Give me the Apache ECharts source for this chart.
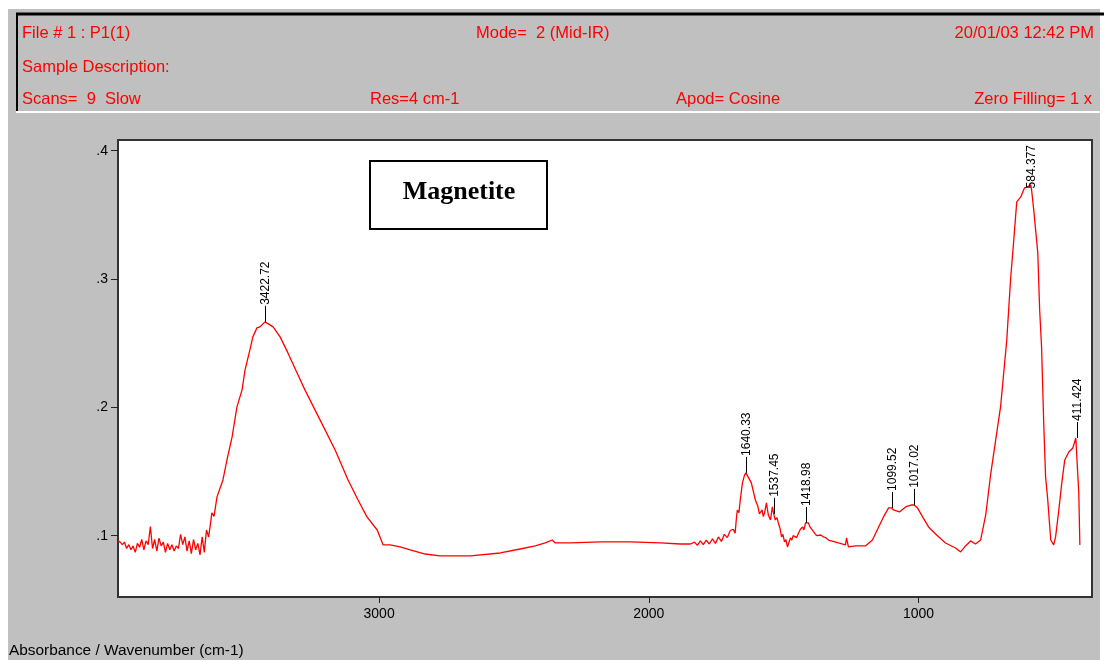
<!DOCTYPE html>
<html><head><meta charset="utf-8">
<script src="https://cdn.jsdelivr.net/npm/echarts@6/dist/echarts.min.js"></script>
<style>
html,body{margin:0;padding:0;background:#fff;}
#wrap{position:relative;width:1104px;height:660px;overflow:hidden;background:#fff;}
#bg{position:absolute;left:8px;top:9px;width:1092px;height:651px;background:#c0c0c0;}
#chart{position:absolute;left:0;top:0;width:1104px;height:660px;}
</style></head><body>
<div id="wrap"><div id="bg"></div><div id="chart"></div></div>
<script>
const wavenumbers = [3968,3960,3952,3944,3936,3928,3920,3912,3904,3896,3888,3880,3872,3864,3856,3848,3840,3832,3824,3816,3808,3800,3792,3784,3776,3768,3760,3752,3744,3736,3728,3720,3712,3704,3696,3688,3680,3672,3664,3656,3648,
  3640,3632,3626,3620,3612,3601,3579,3564,3545,3527,3508,3497,3479,3468,3453,3442,3423,3393,3367,3338,3304,3275,3219,3163,3115,3078,3045,3007,2985,2959,2922,2885,2829,2774,2662,2551,2477,2421,2384,2358,2347,2291,2180,2069,1957,1883,
  1846,1831,1820,1809,1798,1787,1776,1764,1753,1742,1731,1720,1709,1698,1687,1680,1676,1672,1666,1661,1653,1645,1640,1630,1620,1605,1596,1590,1586,1580,1576,1571,1564,1557,1549,1542,1537,1531,1525,1520,1514,1508,1503,1497,1492,1486,1481,1475,1470,1465,1460,1452,1445,1438,1430,1425,1419,1414,1408,1403,1397,1386,1378,1371,1362,1353,1345,1334,
  1297,1271,1267,1260,1234,1197,1171,1148,1130,1111,1100,1093,1071,1048,1026,1017,1004,985,963,933,900,863,844,826,807,789,770,751,733,714,696,673,659,647,636,621,607,596,584,581,573,566,558,551,544,536,529,521,510,499,492,480,469,458,443,428,417,411,406,402];
const absorbance = [0.096,0.095,0.093,0.095,0.090,0.093,0.089,0.092,0.087,0.094,0.091,0.097,0.089,0.096,0.093,0.107,0.090,0.097,0.088,0.098,0.092,0.095,0.087,0.094,0.089,0.093,0.088,0.092,0.090,0.101,0.093,0.099,0.088,0.096,0.086,0.097,0.089,0.094,0.085,0.099,0.087,
  0.1044,0.0990,0.1080,0.1177,0.1150,0.1302,0.1434,0.1590,0.1769,0.2003,0.2136,0.2292,0.2447,0.2549,0.2619,0.2627,0.2666,0.2627,0.2549,0.2424,0.2268,0.2136,0.1902,0.1668,0.1434,0.1278,0.1146,0.1044,0.0928,0.0928,0.0912,0.0889,0.0857,0.0842,0.0842,0.0865,0.0896,0.0920,0.0943,0.0966,0.0943,0.0943,0.0951,0.0951,0.0943,0.0935,
  0.0935,0.0950,0.0925,0.0960,0.0930,0.0965,0.0935,0.0975,0.0940,0.0990,0.0955,0.1010,0.0985,0.1040,0.1050,0.1020,0.1120,0.1200,0.1180,0.1278,0.1411,0.1473,0.1489,0.1450,0.1411,0.1278,0.1230,0.1170,0.1185,0.1200,0.1150,0.1177,0.1255,0.1161,0.1122,0.1224,0.1170,0.1122,0.1140,0.1099,0.1060,0.0990,0.1010,0.0951,0.0970,0.0912,0.0945,0.0982,0.0965,0.1000,0.0990,0.0985,0.1021,0.1050,0.1068,0.1045,0.1099,0.1090,0.1099,0.1070,0.1083,0.1021,0.1000,0.0990,0.1005,0.0990,0.0985,0.0966,
  0.0943,0.0928,0.0982,0.0912,0.0920,0.0920,0.0966,0.1068,0.1146,0.1216,0.1216,0.1200,0.1185,0.1224,0.1239,0.1240,0.1216,0.1146,0.1068,0.1005,0.0943,0.0904,0.0873,0.0920,0.0959,0.0935,0.0966,0.1161,0.1473,0.1746,0.2003,0.2525,0.2993,0.3305,0.3601,0.3640,0.3710,0.3718,0.3734,0.3695,0.3539,0.3383,0.3204,0.2759,0.2471,0.1878,0.1457,0.1278,0.0966,0.0928,0.0990,0.1200,0.1411,0.1590,0.1652,0.1683,0.1761,0.1761,0.1333,0.0928];
const peakWavenumbers = [3422.72,1640.33,1537.45,1418.98,1099.52,1017.02,584.377,411.424];
const peakAbsorbance = [0.2666,0.1489,0.1170,0.1099,0.1216,0.1240,0.3734,0.1761];
const peakLabels = ['3422.72','1640.33','1537.45','1418.98','1099.52','1017.02','584.377','411.424'];
const xTickValues = [3000,2000,1000];
const yTickValues = [0.1,0.2,0.3,0.4];
const headerTexts = [
  {text:'File # 1 : P1(1)', x:22, y:33, align:'left'},
  {text:'Mode=  2 (Mid-IR)', x:476, y:33, align:'left'},
  {text:'20/01/03 12:42 PM', x:1094, y:33, align:'right'},
  {text:'Sample Description:', x:22, y:67, align:'left'},
  {text:'Scans=  9  Slow', x:22, y:99, align:'left'},
  {text:'Res=4 cm-1', x:370, y:99, align:'left'},
  {text:'Apod= Cosine', x:676, y:99, align:'left'},
  {text:'Zero Filling= 1 x', x:1092, y:99, align:'right'}
];
const sampleName = 'Magnetite';
const footerText = 'Absorbance / Wavenumber (cm-1)';

const spectrum = wavenumbers.map((w, i) => [w, absorbance[i]]);
const peaks = peakWavenumbers.map((w, i) => [w, peakAbsorbance[i], i]);
if (wavenumbers.length !== absorbance.length) console.error('length mismatch', wavenumbers.length, absorbance.length);

const PEAK_FONT = '12px "Liberation Sans", Arial, sans-serif';
const mctx = document.createElement('canvas').getContext('2d');
mctx.font = PEAK_FONT;

const chart = echarts.init(document.getElementById('chart'), null, {renderer:'canvas'});
const graphics = [
  {type:'line', shape:{x1:16, y1:14, x2:1104, y2:14}, style:{stroke:'#000', lineWidth:3}, z:10},
  {type:'line', shape:{x1:17, y1:13, x2:17, y2:112}, style:{stroke:'#000', lineWidth:2}, z:10},
  {type:'line', shape:{x1:16, y1:112, x2:1104, y2:112}, style:{stroke:'#fff', lineWidth:2}, z:10},
  {type:'text', x:9, y:651, style:{text:footerText, font:'15.4px "Liberation Sans", Arial, sans-serif', fill:'#000', align:'left', verticalAlign:'middle'}},
  {type:'rect', shape:{x:370, y:161, width:177, height:68}, style:{fill:'#fff', stroke:'#000', lineWidth:2}, z:10},
  {type:'text', x:459, y:192, style:{text:sampleName, font:'bold 26px "Liberation Serif", "Times New Roman", serif', fill:'#000', align:'center', verticalAlign:'middle'}, z:11}
];
headerTexts.forEach(h => graphics.push({type:'text', x:h.x, y:h.y, style:{text:h.text, font:'16.5px "Liberation Sans", Arial, sans-serif', fill:'#ff0000', align:h.align, verticalAlign:'middle'}, z:10}));

chart.setOption({
  animation:false,
  backgroundColor:'transparent',
  grid:{left:118, top:140, right:12, bottom:63, show:true, backgroundColor:'#fff', borderColor:'#333', borderWidth:2},
  xAxis:{
    type:'value', inverse:true, min:357, max:3968,
    axisLine:{show:false},
    axisTick:{show:true, inside:false, length:6, lineStyle:{color:'#222', width:1}, customValues:xTickValues},
    axisLabel:{show:true, margin:10, color:'#000', fontSize:14, fontFamily:'"Liberation Sans", Arial, sans-serif', customValues:xTickValues,
      formatter: v => String(v)},
    splitLine:{show:false}
  },
  yAxis:{
    type:'value', min:0.0522, max:0.4083,
    axisLine:{show:false},
    axisTick:{show:true, inside:false, length:7, lineStyle:{color:'#222', width:1}, customValues:yTickValues},
    axisLabel:{show:true, margin:10, color:'#000', fontSize:14, fontFamily:'"Liberation Sans", Arial, sans-serif', customValues:yTickValues,
      formatter: v => v.toFixed(1).replace(/^0/, '')},
    splitLine:{show:false}
  },
  graphic: graphics,
  series:[
    {type:'line', data:spectrum, showSymbol:false, symbol:'none', lineStyle:{color:'#ff0000', width:1.3}, z:3},
    {type:'custom', data:peaks, z:4, clip:false,
      renderItem:function(params, api){
        const idx = api.value(2);
        const p = api.coord([api.value(0), api.value(1)]);
        const label = peakLabels[idx];
        const tw = mctx.measureText(label).width;
        const top = params.coordSys.y;
        let tb = p[1] - 16;
        if (tb - tw < top + 6) tb = top + 6 + tw;
        const x = Math.round(p[0]) + 0.5;
        const children = [];
        if (tb < p[1]) children.push({type:'line', shape:{x1:x, y1:p[1], x2:x, y2:tb}, style:{stroke:'#000', lineWidth:1}});
        children.push({type:'text', x:x, y:tb - 1, rotation:Math.PI/2, style:{text:label, font:PEAK_FONT, fill:'#000', align:'left', verticalAlign:'middle'}});
        return {type:'group', children:children};
      }
    }
  ]
});
</script>
</body></html>
